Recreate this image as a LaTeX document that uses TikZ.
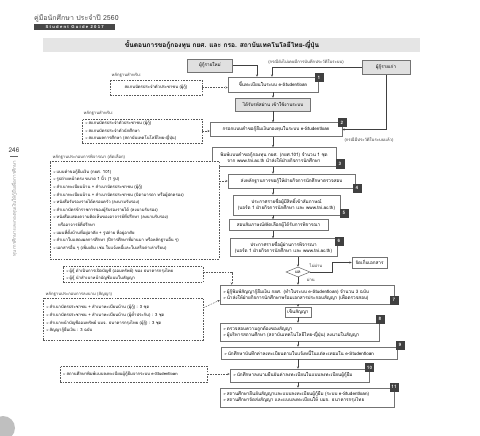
\documentclass[tikz,border=0pt]{standalone}
\usepackage{fontspec}
\setmainfont[Script=Thai]{Loma}
\newfontfamily\spaced[LetterSpace=30]{Liberation Sans}
\newfontfamily\dejavu{DejaVu Sans}
\newcommand\blt{{\dejavu\scalebox{0.8}{➢}}\,}
\usetikzlibrary{shadows,calc,shapes.geometric,arrows.meta}
\tikzset{
  box/.style={draw=black!55, line width=0.5pt, fill=white, inner sep=1pt,
    font=\fontsize{4.6}{6}\selectfont, align=center,
    drop shadow={shadow xshift=0.8pt, shadow yshift=-0.8pt, fill=black!55, opacity=1}},
  gbox/.style={box, fill=black!12},
  lbox/.style={box, align=left, inner xsep=3pt},
  dbox/.style={draw=black!65, dash pattern=on 1.6pt off 1.1pt, line width=0.45pt, fill=white,
    font=\fontsize{4.2}{7.6}\selectfont, align=left, inner xsep=3pt, inner ysep=1pt},
  tag/.style={fill=black!75, text=white, font=\fontsize{4.6}{5}\selectfont\bfseries,
    minimum size=9pt, inner sep=0pt},
  lbl/.style={font=\fontsize{4.2}{5}\selectfont, text=black!80, inner sep=0.5pt},
  arr/.style={-{Stealth[length=2.3pt,width=2.1pt]}, draw=black!75, line width=0.45pt},
  darr/.style={-{Stealth[length=2.3pt,width=2.1pt]}, draw=black!65, line width=0.45pt,
    dash pattern=on 1.6pt off 1.1pt}
}
\begin{document}
\begin{tikzpicture}[x=1pt,y=-1pt]
\useasboundingbox (0,0) rectangle (480,436);
\fill[white] (0,0) rectangle (480,436);

% header
\node[anchor=west, text=black!70, font=\fontsize{7}{8}\selectfont, inner sep=0] (hdr) at (34,18) {คู่มือนักศึกษา ประจำปี 2560};
\node[anchor=west, fill=black!72, text=white, font=\spaced\bfseries\fontsize{4.2}{5}\selectfont,
  minimum width=81pt, minimum height=6pt, inner sep=0.3pt] (sg) at (34,27) {Student Guide 2017};
\fill[black!10] (43,38) rectangle (420,52);
\node[font=\fontsize{6.6}{8}\selectfont\bfseries, inner sep=0] (title) at (222,45)
  {ขั้นตอนการขอกู้กองทุน กยศ. และ กรอ. สถาบันเทคโนโลยีไทย-ญี่ปุ่น};

% left margin
\node[font=\fontsize{6.5}{7}\selectfont, text=black!75, inner sep=0] (pg) at (14,150) {246};
\draw[black!60, line width=0.5pt] (10,156) -- (18,156);
\node[rotate=90, anchor=east, font=\fontsize{4.6}{5}\selectfont, text=black!45, inner sep=0] (side) at (14,161)
  {ทุนการศึกษาและกองทุนเงินให้กู้ยืมเพื่อการศึกษา};
\fill[black!25] (3,428) circle (12);

% spines
\coordinate (spa) at (273,0);
\coordinate (spb) at (298,0);

% top row
\node[gbox, minimum width=45pt, minimum height=13pt] (new) at (210,65.5) {ผู้กู้รายใหม่};
\node[gbox, minimum width=48pt, minimum height=14pt] (old) at (386,67.5) {ผู้กู้รายเก่า};
\node[lbl] (lblnew) at (306,62) {(กรณียังไม่เคยมีการบันทึกประวัติในระบบ)};

% main flow
\node[box, minimum width=90pt, minimum height=15pt] (n1) at (273,84.5) {ขึ้นทะเบียนในระบบ e-Studentloan};
\node[gbox, minimum width=75pt, minimum height=13pt] (pw) at (273,104.5) {ได้รับรหัสผ่าน เข้าใช้งานระบบ};
\node[box, minimum width=132pt, minimum height=14pt] (n2) at (276,129.5) {กรอกแบบคำขอกู้ยืมเงินกองทุนในระบบ e-Studentloan};
\node[lbl] (lblold) at (369,140) {(กรณีมีประวัติในระบบแล้ว)};
\node[box, minimum width=124pt, minimum height=19pt] (n3) at (274,157)
  {พิมพ์แบบคำขอกู้กองทุน กยศ. (กยศ.101) จำนวน 1 ชุด\\จาก www.tni.ac.th นำส่งให้ฝ่ายกิจการนักศึกษา};
\node[box, minimum width=127pt, minimum height=14pt] (n4) at (291.5,181) {ส่งหลักฐานการขอกู้ให้ฝ่ายกิจการนักศึกษาตรวจสอบ};
\node[box, minimum width=107pt, minimum height=20pt] (n5) at (286.5,205)
  {ประกาศรายชื่อผู้มีสิทธิ์เข้าสัมภาษณ์\\(บอร์ด 1 ฝ่ายกิจการนักศึกษา และ www.tni.ac.th)};
\node[box, minimum width=99pt, minimum height=11pt] (iv) at (278.5,225) {สอบสัมภาษณ์/คัดเลือกผู้ได้รับการพิจารณา};
\node[box, minimum width=107pt, minimum height=18pt] (n6) at (283.5,247.5)
  {ประกาศรายชื่อผู้ผ่านการพิจารณา\\(บอร์ด 1 ฝ่ายกิจการนักศึกษา และ www.tni.ac.th)};
\node[diamond, draw=black!60, fill=white, line width=0.5pt, aspect=2.6, inner sep=0.3pt,
  minimum width=24pt, minimum height=10pt, font=\fontsize{4.4}{5}\selectfont] (dec) at (298,272) {ผล};
\node[lbl] (lno) at (316,266) {ไม่ผ่าน};
\node[lbl] (lyes) at (311,280) {ผ่าน};
\node[box, minimum width=35pt, minimum height=11pt] (store) at (369.5,262.5) {จัดเก็บเอกสาร};
\node[lbox, minimum width=174pt, minimum height=19pt, text width=168pt] (n7) at (307,294.5)
  {\blt ผู้กู้พิมพ์สัญญากู้ยืมเงิน กยศ. (ทำในระบบ e-Studentloan) จำนวน 3 ฉบับ\\\blt นำส่งให้ฝ่ายกิจการนักศึกษาพร้อมเอกสารประกอบสัญญา (เพื่อตรวจสอบ)};
\node[box, minimum width=26pt, minimum height=10pt] (sign) at (298,312) {เซ็นสัญญา};
\node[lbox, minimum width=159pt, minimum height=18pt, text width=153pt] (n8) at (299.5,332)
  {\blt ตรวจสอบความถูกต้องของสัญญา\\\blt ผู้บริหารสถานศึกษา (สถาบันเทคโนโลยีไทย-ญี่ปุ่น) ลงนามในสัญญา};
\node[lbox, minimum width=176pt, minimum height=12pt, text width=170pt] (n9) at (309,353)
  {\blt นักศึกษาบันทึกค่าลงทะเบียนตามใบแจ้งหนี้ในแต่ละเทอมใน e-Studentloan};
\node[lbox, minimum width=139pt, minimum height=13pt, text width=133pt] (n10) at (299.5,375.5)
  {\blt นักศึกษาลงนามยืนยันค่าลงทะเบียนในแบบลงทะเบียนผู้กู้ยืม};
\node[lbox, minimum width=174pt, minimum height=19pt, text width=168pt] (n11) at (307,397.5)
  {\blt สถานศึกษายืนยันสัญญาและแบบลงทะเบียนผู้กู้ยืม (ระบบ e-Studentloan)\\\blt สถานศึกษาจัดส่งสัญญา และแบบลงทะเบียนให้ บมจ. ธนาคารกรุงไทย};

% tags
\node[tag] (t1) at (319,78) {1};
\node[tag] (t2) at (342,123) {2};
\node[tag] (t3) at (340,164) {3};
\node[tag] (t4) at (357,188) {4};
\node[tag] (t5) at (344,213) {5};
\node[tag] (t6) at (339,241) {6};
\node[tag] (t7) at (394,300) {7};
\node[tag] (t8) at (380,319) {8};
\node[tag] (t9) at (400,345) {9};
\node[tag] (t10) at (369.5,367.5) {10};
\node[tag] (t11) at (394,387) {11};

% evidence boxes
\node[lbl, anchor=west] (ev1l) at (111,75) {หลักฐานสำหรับ:};
\node[dbox, minimum width=92pt, minimum height=15pt, align=center] (ev1) at (156,87.5) {สแกนบัตรประจำตัวประชาชน (ผู้กู้)};
\node[lbl, anchor=west] (ev2l) at (83,113) {หลักฐานสำหรับ:};
\node[dbox, minimum width=120pt, minimum height=24pt, text width=114pt] (ev2) at (142,131)
  {\blt สแกนบัตรประจำตัวประชาชน (ผู้กู้)\\\blt สแกนบัตรประจำตัวนักศึกษา\\\blt สแกนผลการศึกษา (สถาบันเทคโนโลยีไทย-ญี่ปุ่น)};
\node[lbl, anchor=west] (ev3l) at (52,157) {หลักฐานประกอบการพิจารณา (คัดเลือก)};
\node[dbox, minimum width=169pt, minimum height=98pt, text width=163pt] (ev3) at (134.5,210)
  {\blt แบบคำขอกู้ยืมเงิน (กยศ. 101)\\
   \blt รูปถ่ายหน้าตรง ขนาด 1 นิ้ว (1 รูป)\\
   \blt สำเนาทะเบียนบ้าน + สำเนาบัตรประชาชน (ผู้กู้)\\
   \blt สำเนาทะเบียนบ้าน + สำเนาบัตรประชาชน (บิดามารดา หรือผู้ปกครอง)\\
   \blt หนังสือรับรองรายได้ครอบครัว (ลงนามรับรอง)\\
   \blt สำเนาบัตรข้าราชการของผู้รับรองรายได้ (ลงนามรับรอง)\\
   \blt หนังสือแสดงความคิดเห็นของอาจารย์ที่ปรึกษา (ลงนามรับรอง)\\
   \hspace*{5pt}หรืออาจารย์ที่ปรึกษา\\
   \blt แผนที่ตั้งบ้านที่อยู่อาศัย + รูปถ่าย ที่อยู่อาศัย\\
   \blt สำเนาใบแสดงผลการศึกษา (ปีการศึกษาที่ผ่านมา หรือหลักฐานอื่น ๆ)\\
   \blt เอกสารอื่น ๆ (เพิ่มเติม เช่น ใบแจ้งหนี้และใบเสร็จค่าเล่าเรียน)};
\node[dbox, minimum width=140pt, minimum height=16pt, text width=134pt] (ev4) at (133,274.5)
  {\blt ผู้กู้ ดำเนินการเปิดบัญชี (ออมทรัพย์) ของ ธนาคารกรุงไทย\\\blt ผู้กู้ นำสำเนาหน้าบัญชีแนบในสัญญา};
\node[lbl, anchor=west] (ev5l) at (45,294) {หลักฐานประกอบการลงนาม (สัญญา)};
\node[dbox, minimum width=160pt, minimum height=42pt, text width=154pt] (ev5) at (123,319)
  {\blt สำเนาบัตรประชาชน + สำเนาทะเบียนบ้าน (ผู้กู้) : 3 ชุด\\
   \blt สำเนาบัตรประชาชน + สำเนาทะเบียนบ้าน (ผู้ค้ำประกัน) : 3 ชุด\\
   \blt สำเนาหน้าบัญชีออมทรัพย์ บมจ. ธนาคารกรุงไทย (ผู้กู้) : 3 ชุด\\
   \blt สัญญากู้ยืมเงิน : 3 ฉบับ};
\node[dbox, minimum width=147pt, minimum height=16pt, text width=141pt] (ev6) at (133.5,374)
  {\blt สถานศึกษาพิมพ์แบบลงทะเบียนผู้กู้ยืมจากระบบ e-Studentloan};

% connectors
\draw[arr] (new.east) -| ([xshift=-16pt]n1.north);
\draw[arr] (old.west) -| ([xshift=-1pt]n1.north);
\draw[arr] (old.south) |- (n2.east);
\draw[arr] (n1.south -| spa) -- (pw.north -| spa);
\draw[arr] (pw.south -| spa) -- (n2.north -| spa);
\draw[arr] (n2.south -| spa) -- (n3.north -| spa);
\draw[arr] (n3.south -| spa) -- (n4.north -| spa);
\draw[arr] (n4.south -| spa) -- (n5.north -| spa);
\draw[arr] (n5.south -| spa) -- (iv.north -| spa);
\draw[arr] (iv.south -| spa) -- (n6.north -| spa);
\draw[arr] (n6.south -| spb) -- (dec.north);
\draw[arr] (dec.east) -- ++(22,0) |- (store.west);
\draw[arr] (dec.south) -- (n7.north -| spb);
\draw[arr] (n7.south -| spb) -- (sign.north);
\draw[arr] (sign.south) -- (n8.north -| spb);
\draw[arr] (n8.south -| spb) -- (n9.north -| spb);
\draw[arr] (n9.south -| spb) -- (n10.north -| spb);
\draw[arr] (n10.south -| spb) -- (n11.north -| spb);

\draw[darr] (ev1.east) -- (ev1.east -| n1.west);
\draw[darr] (ev2.east) -- (ev2.east -| n2.west);
\draw[darr] (ev3.east |- n4.west) -- (n4.west);
\draw[darr] ([yshift=2pt]ev4.east) -| ([xshift=12pt]n7.north west);
\draw[darr] ([yshift=-10pt]ev5.north east) -- ([yshift=4pt]n7.south west);
\draw[darr] (ev6.east) -- (ev6.east -| n10.west);
\end{tikzpicture}
\end{document}
